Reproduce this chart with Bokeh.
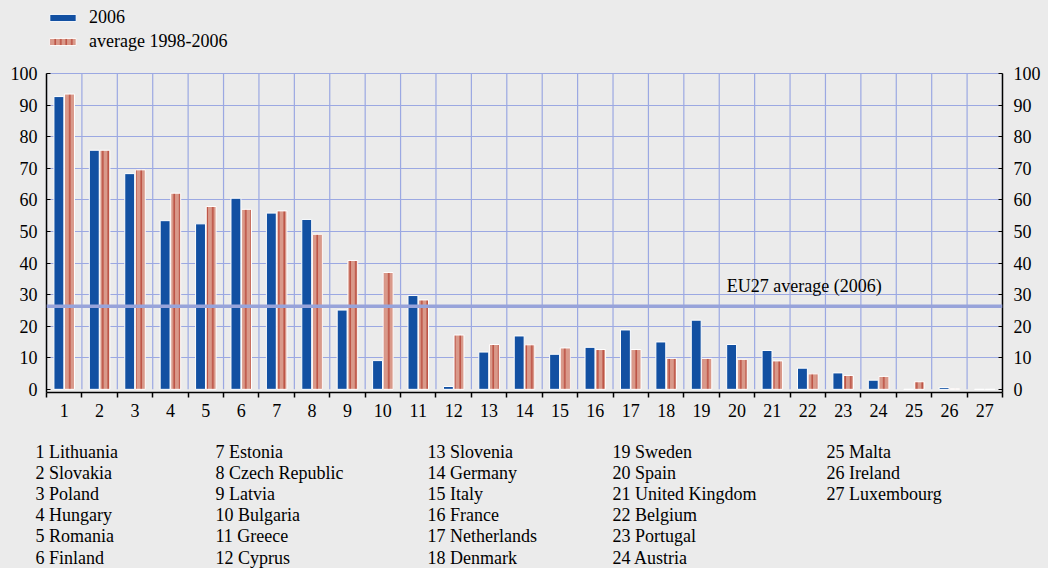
from bokeh.plotting import figure
from bokeh.models import Range1d, FixedTicker, LinearAxis, Span, Label, Legend, LegendItem, ColumnDataSource
from bokeh.layouts import column
from bokeh.embed import file_html
from bokeh.resources import INLINE
from bokeh.core.properties import value
from bokeh.transform import dodge

countries = ["Lithuania", "Slovakia", "Poland", "Hungary", "Romania", "Finland", "Estonia",
             "Czech Republic", "Latvia", "Bulgaria", "Greece", "Cyprus", "Slovenia", "Germany",
             "Italy", "France", "Netherlands", "Denmark", "Sweden", "Spain", "United Kingdom",
             "Belgium", "Portugal", "Austria", "Malta", "Ireland", "Luxembourg"]
v2006 = [92.7, 75.7, 68.3, 53.4, 52.4, 60.5, 55.8, 53.8, 25.1, 9.1, 29.7, 0.9, 11.8, 16.9,
         11.1, 13.3, 18.8, 15.0, 21.9, 14.2, 12.3, 6.7, 5.2, 2.9, 0.0, 0.6, 0.0]
vavg = [93.5, 75.7, 69.5, 62.1, 57.9, 57.0, 56.5, 49.1, 40.8, 37.0, 28.3, 17.2, 14.2, 14.1,
        13.1, 12.6, 12.6, 9.8, 9.8, 9.5, 9.0, 4.9, 4.4, 4.1, 2.4, 0.2, 0.0]
eu27_avg = 26.3
series_names = ["2006", "average 1998-2006"]
eu_label = "EU27 average (2006)"
y_ticks = list(range(0, 101, 10))

FONT = "Liberation Serif"
FS = "18px"
BG = "#ebebeb"
GRID = "#9ba8e2"
BLUE = "#1250a2"
SALMON = "#d9998a"
HATCH = "#b23a2c"

n = len(countries)
idx = list(range(1, n + 1))
src = ColumnDataSource(dict(x=idx, v2006=v2006, vavg=vavg))
bounds = [i + 0.5 for i in range(0, n + 1)]

W = 1048
H1 = 430
p = figure(width=W, height=H1, output_backend="svg", toolbar_location=None,
           x_range=Range1d(0.5, n + 0.5), y_range=Range1d(-1, 120.9),
           min_border_left=46, min_border_right=46, min_border_top=7, min_border_bottom=38,
           background_fill_color=BG, border_fill_color=BG, outline_line_color=None)

# vertical grid lines at category boundaries, limited to the 0-100 value band
p.segment(x0=bounds, y0=[0] * len(bounds), x1=bounds, y1=[100] * len(bounds),
          line_color=GRID, line_width=1.2, level="underlay")
p.xgrid.visible = False
p.ygrid.ticker = FixedTicker(ticks=y_ticks[1:])
p.ygrid.grid_line_color = GRID
p.ygrid.grid_line_width = 1.2
p.ygrid.level = "underlay"

r1 = p.vbar(x=dodge("x", -0.15, range=p.x_range), top="v2006", width=0.28, source=src,
            fill_color=BLUE, line_color="white", line_width=1)
r2 = p.vbar(x=dodge("x", 0.15, range=p.x_range), top="vavg", width=0.28, source=src,
            fill_color=SALMON, line_color="white", line_width=1,
            hatch_pattern="|", hatch_color=HATCH, hatch_scale=5.5, hatch_weight=1.2)

eu = Span(location=eu27_avg, dimension="width", line_color="#97a3da", line_width=3.5)
p.add_layout(eu)
p.add_layout(Label(x=21.9, y=32.8, text=eu_label, text_align="center", text_baseline="middle",
                   text_font=FONT, text_font_size=FS, text_color="black"))

# axes
xa = p.xaxis[0]
xa.ticker = FixedTicker(ticks=idx, minor_ticks=bounds)
xa.major_tick_line_color = None
xa.major_tick_in = 0
xa.major_tick_out = 0
xa.minor_tick_in = 0
xa.minor_tick_out = 5
xa.minor_tick_line_color = "black"
xa.minor_tick_line_width = 1.5
xa.axis_line_color = "black"
xa.axis_line_width = 1.5
xa.major_label_text_font = FONT
xa.major_label_text_font_size = FS
xa.major_label_text_color = "black"
xa.major_label_standoff = 6

ya = p.yaxis[0]
ya.ticker = FixedTicker(ticks=y_ticks)
ya2 = LinearAxis(ticker=FixedTicker(ticks=y_ticks))
p.add_layout(ya2, "right")
for a in (ya, ya2):
    a.bounds = (-1, 100)
    a.axis_line_color = "black"
    a.axis_line_width = 1.5
    a.major_tick_in = 4
    a.major_tick_out = 0
    a.major_tick_line_color = "black"
    a.minor_tick_line_color = None
    a.major_label_text_font = FONT
    a.major_label_text_font_size = FS
    a.major_label_text_color = "black"
ya.major_label_standoff = 9
ya2.major_label_standoff = 11

legend = Legend(items=[LegendItem(label=series_names[0], renderers=[r1]),
                       LegendItem(label=series_names[1], renderers=[r2])],
                location="top_left", orientation="vertical",
                glyph_width=33, glyph_height=9, label_height=20, spacing=3,
                label_standoff=10, padding=0, margin=0,
                background_fill_alpha=0, border_line_color=None,
                label_text_font=FONT, label_text_font_size=FS, label_text_color="black")
p.add_layout(legend, "center")

# country key below
H2 = 568 - H1
q = figure(width=W, height=H2, output_backend="svg", toolbar_location=None,
           x_range=Range1d(0, W), y_range=Range1d(H2, 0), x_axis_type=None, y_axis_type=None,
           min_border=0, background_fill_color=BG, border_fill_color=BG, outline_line_color=None)
try:
    p.frame_align = False
    q.frame_align = False
except Exception:
    pass
q.xgrid.visible = False
q.ygrid.visible = False
col_x = [35, 215, 427, 612, 826]
keys = [f"{i} {c}" for i, c in zip(idx, countries)]
kx = [col_x[(i - 1) // 6] for i in idx]
ky = [451 - H1 + ((i - 1) % 6) * 21.2 for i in idx]
q.text(x=kx, y=ky, text=keys, text_font=value(FONT), text_font_size=FS,
       text_baseline="middle", text_align="left", text_color="black")

layout = column(p, q, spacing=0, styles={"background-color": BG})
open("out.html", "w").write(file_html(layout, INLINE))
